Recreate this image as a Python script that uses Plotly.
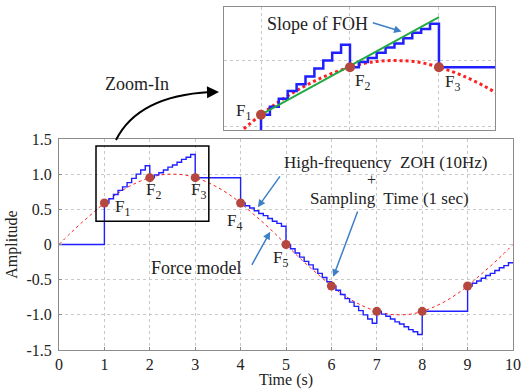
import plotly.graph_objects as go

# ---- data ----
# Force model (red dotted curve), sampled every 0.25 s
force_t = [0, 0.25, 0.5, 0.75, 1, 1.25, 1.5, 1.75, 2, 2.25, 2.5, 2.75, 3, 3.25, 3.5, 3.75, 4,
           4.25, 4.5, 4.75, 5, 5.25, 5.5, 5.75, 6, 6.25, 6.5, 6.75, 7, 7.25, 7.5, 7.75, 8,
           8.25, 8.5, 8.75, 9, 9.25, 9.5, 9.75, 10]
force_v = [0, 0.16, 0.31, 0.45, 0.59, 0.71, 0.81, 0.89, 0.95, 0.99, 1.0, 0.99, 0.95, 0.89, 0.81, 0.71, 0.59,
           0.45, 0.31, 0.16, 0, -0.16, -0.31, -0.45, -0.59, -0.71, -0.81, -0.89, -0.95, -0.99, -1.0, -0.99, -0.95,
           -0.89, -0.81, -0.71, -0.59, -0.45, -0.31, -0.16, 0]

# Sampled points F1..F9 (1 s sampling)
sample_t = [1, 2, 3, 4, 5, 6, 7, 8, 9]
sample_v = [0.59, 0.95, 0.95, 0.59, 0.0, -0.59, -0.95, -0.95, -0.59]
sample_lbl = ["F<sub>1</sub>", "F<sub>2</sub>", "F<sub>3</sub>", "F<sub>4</sub>", "F<sub>5</sub>"]

# High-frequency ZOH (10 Hz) staircase, one value per 0.1 s step
zoh_t = [round(i * 0.1, 1) for i in range(101)]
zoh_seg0 = [0, 0, 0, 0, 0, 0, 0, 0, 0, 0]
zoh_seg1 = [0.59, 0.65, 0.71, 0.77, 0.82, 0.88, 0.94, 1.00, 1.06, 1.12]
zoh_seg2 = [0.95, 0.99, 1.02, 1.06, 1.10, 1.13, 1.17, 1.21, 1.24, 1.28]
zoh_seg3 = [0.95, 0.95, 0.95, 0.95, 0.95, 0.95, 0.95, 0.95, 0.95, 0.95]
zoh_seg4 = [0.59, 0.55, 0.52, 0.48, 0.44, 0.41, 0.37, 0.33, 0.30, 0.26]
zoh_seg5 = [0.00, -0.06, -0.12, -0.18, -0.24, -0.29, -0.35, -0.41, -0.47, -0.53]
zoh_seg6 = [-0.59, -0.65, -0.71, -0.77, -0.82, -0.88, -0.94, -1.00, -1.06, -1.12]
zoh_seg7 = [-0.95, -0.99, -1.02, -1.06, -1.10, -1.13, -1.17, -1.21, -1.24, -1.28]
zoh_seg8 = [-0.95, -0.95, -0.95, -0.95, -0.95, -0.95, -0.95, -0.95, -0.95, -0.95]
zoh_seg9 = [-0.59, -0.55, -0.52, -0.48, -0.44, -0.41, -0.37, -0.33, -0.30, -0.26]
zoh_end = [-0.26]
zoh_v = (zoh_seg0 + zoh_seg1 + zoh_seg2 + zoh_seg3 + zoh_seg4 + zoh_seg5 +
         zoh_seg6 + zoh_seg7 + zoh_seg8 + zoh_seg9 + zoh_end)

# Slope of FOH (green line in the inset)
foh_t = [1.0, 3.0]
foh_v = [0.59, 1.33]

x_ticks = [0, 1, 2, 3, 4, 5, 6, 7, 8, 9, 10]
y_ticks = [-1.5, -1.0, -0.5, 0, 0.5, 1.0, 1.5]
y_tick_text = ["-1.5", "-1.0", "-0.5", "0", "0.5", "1.0", "1.5"]

# ---- styling ----
FONT = "Liberation Serif, Times New Roman, serif"
BLUE = "#1f1fff"
RED = "#ff2020"
DOT = "#b5473f"
ARROW = "#3f7fc8"
GRID = "#c8c8c8"
FRAME = "#8c8c8c"
TXT = "#222222"

W, H = 525, 389
ML, MR, MT, MB = 59, 12, 5, 39
PW, PH = W - ML - MR, H - MT - MB


def paper_x(px):
    return (px - ML) / PW


def paper_y(py):
    return (H - MB - py) / PH


main_top = paper_y(139)

fig = go.Figure()

# main plot traces
fig.add_trace(go.Scatter(x=force_t, y=force_v, mode="lines", line=dict(color=RED, width=1, dash="dot", shape="spline"),
                         xaxis="x", yaxis="y", showlegend=False, hoverinfo="skip"))
fig.add_trace(go.Scatter(x=zoh_t, y=zoh_v, mode="lines", line=dict(color=BLUE, width=1.4, shape="hv"),
                         xaxis="x", yaxis="y", showlegend=False))
fig.add_trace(go.Scatter(x=sample_t, y=sample_v, mode="markers", marker=dict(color=DOT, size=9),
                         xaxis="x", yaxis="y", showlegend=False))

# inset traces
fig.add_trace(go.Scatter(x=force_t, y=force_v, mode="lines", line=dict(color=RED, width=3, dash="dot", shape="spline"),
                         xaxis="x2", yaxis="y2", showlegend=False))
fig.add_trace(go.Scatter(x=zoh_t, y=zoh_v, mode="lines", line=dict(color=BLUE, width=2.5, shape="hv"),
                         xaxis="x2", yaxis="y2", showlegend=False))
fig.add_trace(go.Scatter(x=foh_t, y=foh_v, mode="lines", line=dict(color="#22aa44", width=2),
                         xaxis="x2", yaxis="y2", showlegend=False))
fig.add_trace(go.Scatter(x=sample_t, y=sample_v, mode="markers", marker=dict(color=DOT, size=10),
                         xaxis="x2", yaxis="y2", showlegend=False))

axis_common = dict(showline=True, linecolor=FRAME, linewidth=1, mirror=True, zeroline=False,
                   showgrid=True, gridcolor=GRID, griddash="dot", gridwidth=1, automargin=False)

fig.update_layout(
    width=W, height=H,
    margin=dict(l=ML, r=MR, t=MT, b=MB),
    paper_bgcolor="white", plot_bgcolor="white",
    font=dict(family=FONT, size=16, color=TXT),
    xaxis=dict(domain=[0, 1], range=[0, 10], anchor="y", tickvals=x_ticks, ticks="inside", ticklen=3,
               tickcolor=FRAME, tickfont=dict(family=FONT, size=16, color=TXT),
               title=dict(text="Time (s)", standoff=6, font=dict(family=FONT, size=16, color=TXT)), **axis_common),
    yaxis=dict(domain=[0, main_top], range=[-1.5, 1.5], anchor="x", tickvals=y_ticks, ticktext=y_tick_text,
               ticks="inside", ticklen=3, tickcolor=FRAME, tickfont=dict(family=FONT, size=16, color=TXT),
               ticklabelstandoff=3,
               title=dict(text="Amplitude", standoff=4, font=dict(family=FONT, size=16, color=TXT)), **axis_common),
    xaxis2=dict(domain=[paper_x(224), paper_x(495)], range=[0.584, 3.63], anchor="y2", dtick=1,
                showticklabels=False, ticks="", **axis_common),
    yaxis2=dict(domain=[paper_y(130), paper_y(7)], range=[0.474, 1.406], anchor="x2", dtick=0.5,
                showticklabels=False, ticks="", **axis_common),
)

# zoom box on the main plot
fig.add_shape(type="rect", xref="x", yref="y", x0=0.815, x1=3.30, y0=0.33, y1=1.40,
              line=dict(color="black", width=1.5))

# curved Zoom-In arrow
x0, y0 = paper_x(116), paper_y(140)
cx, cy = paper_x(138), paper_y(96)
x1, y1 = paper_x(210), paper_y(92)
fig.add_shape(type="path", xref="paper", yref="paper",
              path=f"M {x0} {y0} Q {cx} {cy} {x1} {y1}", line=dict(color="black", width=2))
fig.add_annotation(xref="paper", yref="paper", x=paper_x(219), y=paper_y(92), ax=-12, ay=0.3,
                   axref="pixel", ayref="pixel", text="", showarrow=True, arrowhead=2, arrowsize=1.2,
                   arrowwidth=2, arrowcolor="black")
fig.add_annotation(xref="paper", yref="paper", x=paper_x(137), y=paper_y(84), text="Zoom-In",
                   xanchor="center", yanchor="middle",
                   showarrow=False, font=dict(family=FONT, size=18, color=TXT))

# sample labels on main plot
lbl_pos = [(1.4, 0.52), (2.08, 0.76), (3.08, 0.76), (3.87, 0.32), (4.88, -0.2)]
for (lx, ly), txt in zip(lbl_pos, sample_lbl):
    fig.add_annotation(x=lx, y=ly, xref="x", yref="y", text=txt, showarrow=False,
                       font=dict(family=FONT, size=17, color=TXT))

# text annotations main plot
ann_font = dict(family=FONT, size=17, color=TXT)
fig.add_annotation(x=7.2, y=1.17, xref="x", yref="y", text="High-frequency  ZOH (10Hz)", showarrow=False,
                   font=ann_font)
fig.add_annotation(x=6.89, y=0.92, xref="x", yref="y", text="+", showarrow=False,
                   font=dict(family=FONT, size=16, color=TXT))
fig.add_annotation(x=7.27, y=0.66, xref="x", yref="y", text="Sampling  Time (1 sec)", showarrow=False,
                   font=ann_font)
fig.add_annotation(x=3.02, y=-0.33, xref="x", yref="y", text="Force model", showarrow=False,
                   font=dict(family=FONT, size=18, color=TXT))

# blue arrows
arrows = [((4.38, 0.53), (4.89, 0.99)), ((6.04, -0.46), (6.59, 0.49)), ((4.65, 0.18), (4.23, -0.31))]
for (hx, hy), (tx, ty) in arrows:
    fig.add_annotation(x=hx, y=hy, ax=tx, ay=ty, xref="x", yref="y", axref="x", ayref="y", text="",
                       showarrow=True, arrowhead=2, arrowsize=1, arrowwidth=1.5, arrowcolor=ARROW)

# inset labels
inset_lbl = [(0.80, 0.61, "F<sub>1</sub>"), (2.14, 0.84, "F<sub>2</sub>"), (3.15, 0.83, "F<sub>3</sub>")]
for lx, ly, txt in inset_lbl:
    fig.add_annotation(x=lx, y=ly, xref="x2", yref="y2", text=txt, showarrow=False,
                       font=dict(family=FONT, size=17, color=TXT))
fig.add_annotation(x=1.63, y=1.28, xref="x2", yref="y2", text="Slope of FOH", showarrow=False,
                   font=dict(family=FONT, size=18, color=TXT))
fig.add_annotation(x=2.58, y=1.22, ax=2.24, ay=1.29, xref="x2", yref="y2", axref="x2", ayref="y2", text="",
                   showarrow=True, arrowhead=2, arrowsize=1, arrowwidth=1.5, arrowcolor=ARROW)

fig.write_html("out.html")
